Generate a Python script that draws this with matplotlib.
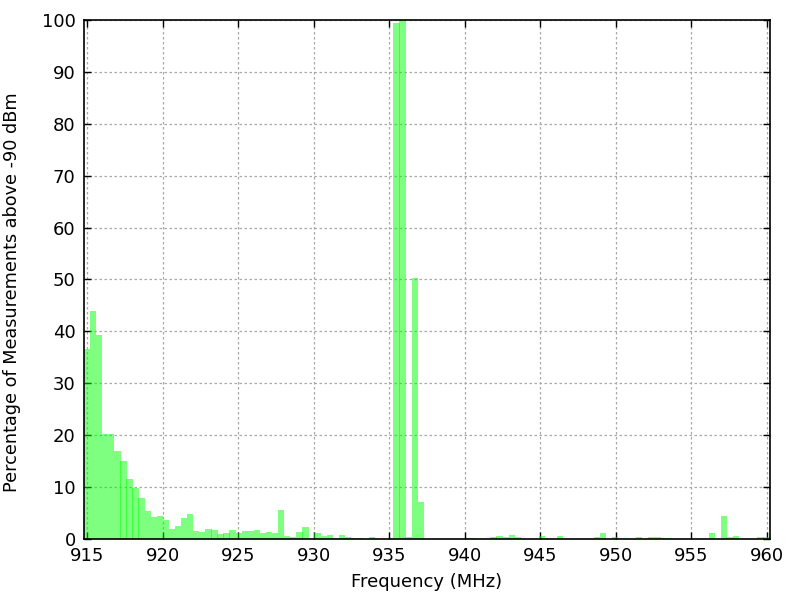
import numpy as np
import matplotlib
matplotlib.use('Agg')
import matplotlib.pyplot as plt


#frequency grid of the scan, 113 channels from 915 to 960 MHz
f_start=915.0
f_stop=960.0
n_chan=113

pct=[36.6, 43.9, 39.3, 20.2, 20.2, 16.9, 15.0, 11.6, 9.9, 7.9,
     5.4, 4.3, 4.5, 3.7, 1.9, 2.5, 4.0, 4.8, 1.5, 1.35,
     1.9, 1.7, 1.0, 1.2, 1.7, 1.2, 1.5, 1.5, 1.7, 1.2,
     1.35, 1.2, 5.6, 0.6, 0.4, 1.35, 2.3, 0.0, 1.2, 0.6,
     0.8, 0.2, 0.8, 0.4, 0.2, 0.15, 0.0, 0.4, 0.0, 0.0,
     0.0, 99.4, 100.0, 0.4, 50.2, 7.2, 0.0, 0.0, 0.0, 0.0,
     0.0, 0.0, 0.0, 0.2, 0.15, 0.0, 0.0, 0.4, 0.6, 0.4,
     0.8, 0.4, 0.0, 0.0, 0.0, 0.6, 0.2, 0.0, 0.6, 0.0,
     0.0, 0.0, 0.0, 0.0, 0.4, 1.2, 0.0, 0.4, 0.0, 0.0,
     0.0, 0.4, 0.0, 0.4, 0.4, 0.2, 0.2, 0.0, 0.0, 0.0,
     0.0, 0.0, 0.0, 1.2, 0.0, 4.4, 0.4, 0.6, 0.0, 0.0,
     0.0, 0.4, 0.4]

xticks=[915, 920, 925, 930, 935, 940, 945, 950, 955, 960]
yticks=[0, 10, 20, 30, 40, 50, 60, 70, 80, 90, 100]


def plot(freq, pct):

    step=(f_stop-f_start)/(n_chan-1)

    fig=plt.figure(figsize=(8, 6), dpi=100)
    ax=fig.add_axes([0.105, 0.1017, 0.857, 0.865])

    #gnuplot-ish dotted grid under the boxes
    ax.set_axisbelow(True)
    ax.grid(True, color='#a8a8a8', linestyle=(0, (2, 2)), linewidth=0.9)

    #boxes slightly wider than the step so neighbours overlap a hair
    ax.bar(freq, pct, width=step*1.04, color='#00ff00', alpha=0.5, linewidth=0)

    ax.set_xlim(f_start-step/2, f_stop+step/2)
    ax.set_ylim(0, 100)
    ax.set_xticks(xticks)
    ax.set_yticks(yticks)

    ax.tick_params(direction='in', top=True, right=True, length=5,
                   width=1, labelsize=13, pad=6)
    for s in ax.spines.values():
        s.set_linewidth(1.2)

    ax.set_xlabel('Frequency (MHz)', fontsize=13)
    ax.set_ylabel('Percentage of Measurements above -90 dBm', fontsize=12.7)
    #gnuplot puts the labels a bit off the axes centre
    ax.xaxis.set_label_coords(0.5, -0.066)
    ax.yaxis.set_label_coords(-0.092, 0.476)

    fig.savefig('out.png', dpi=100)


def main():

    freq=np.linspace(f_start, f_stop, n_chan)
    plot(freq, pct)


if __name__ == '__main__':
    main()
